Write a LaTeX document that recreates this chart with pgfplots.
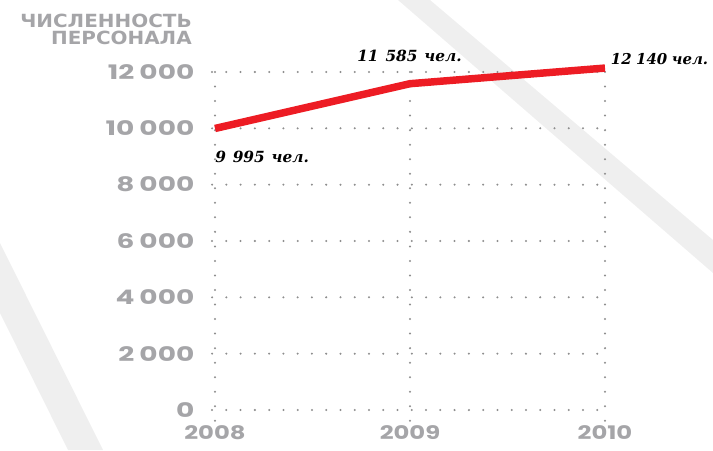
\documentclass[border=0pt]{standalone}
\usepackage{graphicx}
\usepackage{fontspec}
\usepackage{pgfplots}
\pgfplotsset{compat=1.18}
\setmainfont{DejaVu Sans}
\newfontfamily\tickfont{Poppins}
\newfontfamily\titlefont{DejaVu Sans}
\newfontfamily\annfont{DejaVu Serif}
\definecolor{tickgray}{HTML}{A5A5A8}
\definecolor{bandgray}{HTML}{EFEFEF}
\definecolor{dotgray}{HTML}{8E8E8E}
\definecolor{linered}{HTML}{ED1C24}
\pgfplotstableread{
year value
2008 9995
2009 11585
2010 12140
}\staff
\begin{document}
\begin{tikzpicture}
\path[use as bounding box] (0,0) rectangle (534.75pt,337.5pt);
% decorative background bands
\fill[bandgray] (298.5pt,337.5pt) -- (322.5pt,337.5pt) -- (534.75pt,157.5pt) -- (534.75pt,132.75pt) -- cycle;
\fill[bandgray] (0pt,155.25pt) -- (77.25pt,0pt) -- (51pt,0pt) -- (0pt,102.75pt) -- cycle;
% title
\node[anchor=base east, inner sep=0pt, text=tickgray, font=\titlefont\bfseries\fontsize{13.6}{14}\selectfont] at (144pt,316.5pt) {\scalebox{1.1}[1]{ЧИСЛЕННОСТЬ}};
\node[anchor=base east, inner sep=0pt, text=tickgray, font=\titlefont\bfseries\fontsize{13.6}{14}\selectfont] at (144pt,303.75pt) {\scalebox{1.1}[1]{ПЕРСОНАЛА}};
\begin{axis}[
  at={(161.25pt,30pt)}, anchor=south west,
  scale only axis, width=292.5pt, height=253.5pt,
  xmin=2008, xmax=2010, ymin=0, ymax=12000,
  clip=false,
  axis line style={draw=none},
  major tick style={draw=none},
  xtick={2008,2009,2010},
  ytick={0,2000,4000,6000,8000,10000,12000},
  scaled y ticks=false, scaled x ticks=false,
  /pgf/number format/assume math mode=true,
  xticklabel={\scalebox{1.3}[1]{\tickfont\bfseries\fontsize{14}{15}\selectfont\pgfmathprintnumber[1000 sep={}]{\tick}}},
  yticklabel={\scalebox{1.4}[1]{\tickfont\bfseries\fontsize{15}{16}\selectfont\pgfmathprintnumber[1000 sep={\hspace{0.18em}}]{\tick}}},
  ticklabel style={text=tickgray},
  xticklabel style={anchor=north, yshift=-8pt},
  yticklabel style={anchor=east, xshift=-12pt},
]
\pgfplotsinvokeforeach{0,2000,4000,6000,8000,10000,12000}{
  \draw[dotgray, line width=1.7pt, line cap=round, dash pattern=on 0pt off 10.7pt] (axis cs:2007.985,#1) -- (axis cs:2010.03,#1);
}
\pgfplotsinvokeforeach{2008,2009,2010}{
  \draw[dotgray, line width=1.7pt, line cap=round, dash pattern=on 0pt off 10.9pt] (axis cs:#1,12000) -- (axis cs:#1,-520);
}
\addplot[linered, line width=5.6pt, line join=round] table[x=year, y=value] {\staff};
\node[anchor=base west, inner sep=0pt, font=\annfont\bfseries\itshape\fontsize{11.5}{12}\selectfont] at (axis cs:2008,8800) {9\hspace{0.45em}995\hspace{0.45em}чел.};
\end{axis}
\node[anchor=base west, inner sep=0pt, font=\annfont\bfseries\itshape\fontsize{11.5}{12}\selectfont] at (267.75pt,291pt) {11\hspace{0.45em}585\hspace{0.45em}чел.};
\node[anchor=base west, inner sep=0pt, font=\annfont\bfseries\itshape\fontsize{11.2}{12}\selectfont] at (458pt,288.75pt) {12\hspace{0.3em}140\hspace{0.3em}чел.};
\end{tikzpicture}
\end{document}
